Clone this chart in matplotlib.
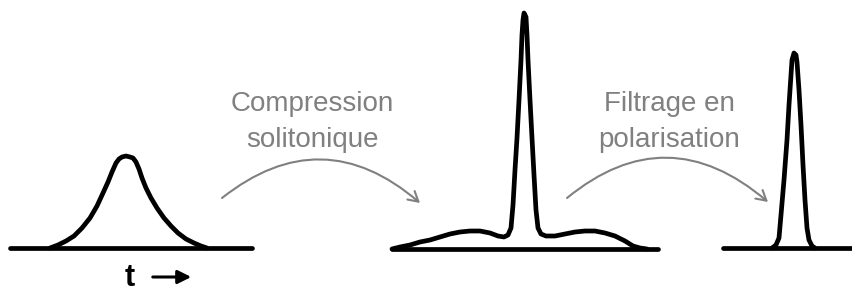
import matplotlib
matplotlib.use("Agg")
import matplotlib.pyplot as plt
from matplotlib.patches import FancyArrowPatch
from matplotlib.path import Path

# coordonnées (pixels, y vers le bas)
# impulsion initiale
p1_x = [50, 58, 66, 74, 82, 90, 97, 103, 108, 112, 116, 119, 122, 126, 130, 133,
        136, 139, 142, 146, 151, 157, 164, 171, 178, 186, 194, 201, 207]
p1_y = [248, 245, 241, 236, 228, 218, 206, 193, 182, 172, 163, 159, 157, 156, 157,
        158, 162, 169, 178, 188, 198, 208, 218, 226, 233, 239, 243, 246, 248]
base1_x = [10, 252]
base1_y = [248, 248]

# impulsion comprimée (pic + piédestal)
p2_x = [392, 400, 410, 420, 430, 440, 450, 460, 470, 480, 490, 498, 504, 508, 511,
        513, 515, 517, 519, 521, 522, 523, 524, 526, 527, 528, 530, 532, 534, 536,
        538, 541, 546, 555, 565, 575, 585, 595, 605, 615, 625, 633, 640, 647]
p2_y = [249, 247, 245, 242, 240, 237, 234, 232, 231, 231, 233, 236, 237, 235, 228,
        205, 170, 138, 100, 60, 35, 20, 13, 17, 35, 60, 100, 138, 175, 210,
        228, 234, 236, 236, 234, 232, 231, 231, 233, 236, 241, 246, 248, 249]
base2_x = [392, 658]
base2_y = [249, 249]

# impulsion filtrée
p3_x = [772, 776, 779, 781, 784, 787, 789, 791, 792, 794, 796, 797, 799, 801, 803,
        805, 807, 809, 812, 815]
p3_y = [248, 245, 238, 215, 180, 140, 105, 75, 60, 53, 55, 62, 90, 125, 165,
        200, 228, 240, 246, 248]
base3_x = [723, 852]
base3_y = [248, 248]

# flèches courbes grises : départ, contrôle, arrivée
arrow1 = [(222, 198), (322, 119), (420, 203)]
arrow2 = [(567, 198), (667, 116), (768, 202)]

labels = [("Compression\nsolitonique", 312, 122),
          ("Filtrage en\npolarisation", 669, 122)]

fig = plt.figure(figsize=(8.52, 2.94), dpi=100)
ax = fig.add_axes([0, 0, 1, 1])
ax.set_xlim(0, 852)
ax.set_ylim(294, 0)
ax.axis("off")

lw = 3.4
for xs, ys in [(base1_x, base1_y), (p1_x, p1_y), (base2_x, base2_y),
               (p2_x, p2_y), (base3_x, base3_y), (p3_x, p3_y)]:
    ax.plot(xs, ys, color="black", lw=lw, solid_capstyle="round",
            solid_joinstyle="round")

gray = "#808080"
for pts in [arrow1, arrow2]:
    path = Path(pts, [Path.MOVETO, Path.CURVE3, Path.CURVE3])
    arr = FancyArrowPatch(path=path, arrowstyle="->,head_length=7,head_width=4",
                          color=gray, lw=1.5)
    ax.add_patch(arr)

for txt, x, y in labels:
    ax.text(x, y, txt, ha="center", va="center", color=gray,
            fontsize=20, family="Liberation Sans", linespacing=1.5)

# axe du temps
ax.text(130, 278, "t", ha="center", va="center", fontsize=22,
        fontweight="bold", family="Liberation Sans", color="black")
ax.add_patch(FancyArrowPatch((150, 277), (194, 277),
                             arrowstyle="-|>,head_length=8,head_width=4",
                             color="black", lw=2.2))

fig.savefig("out.png", dpi=100)
